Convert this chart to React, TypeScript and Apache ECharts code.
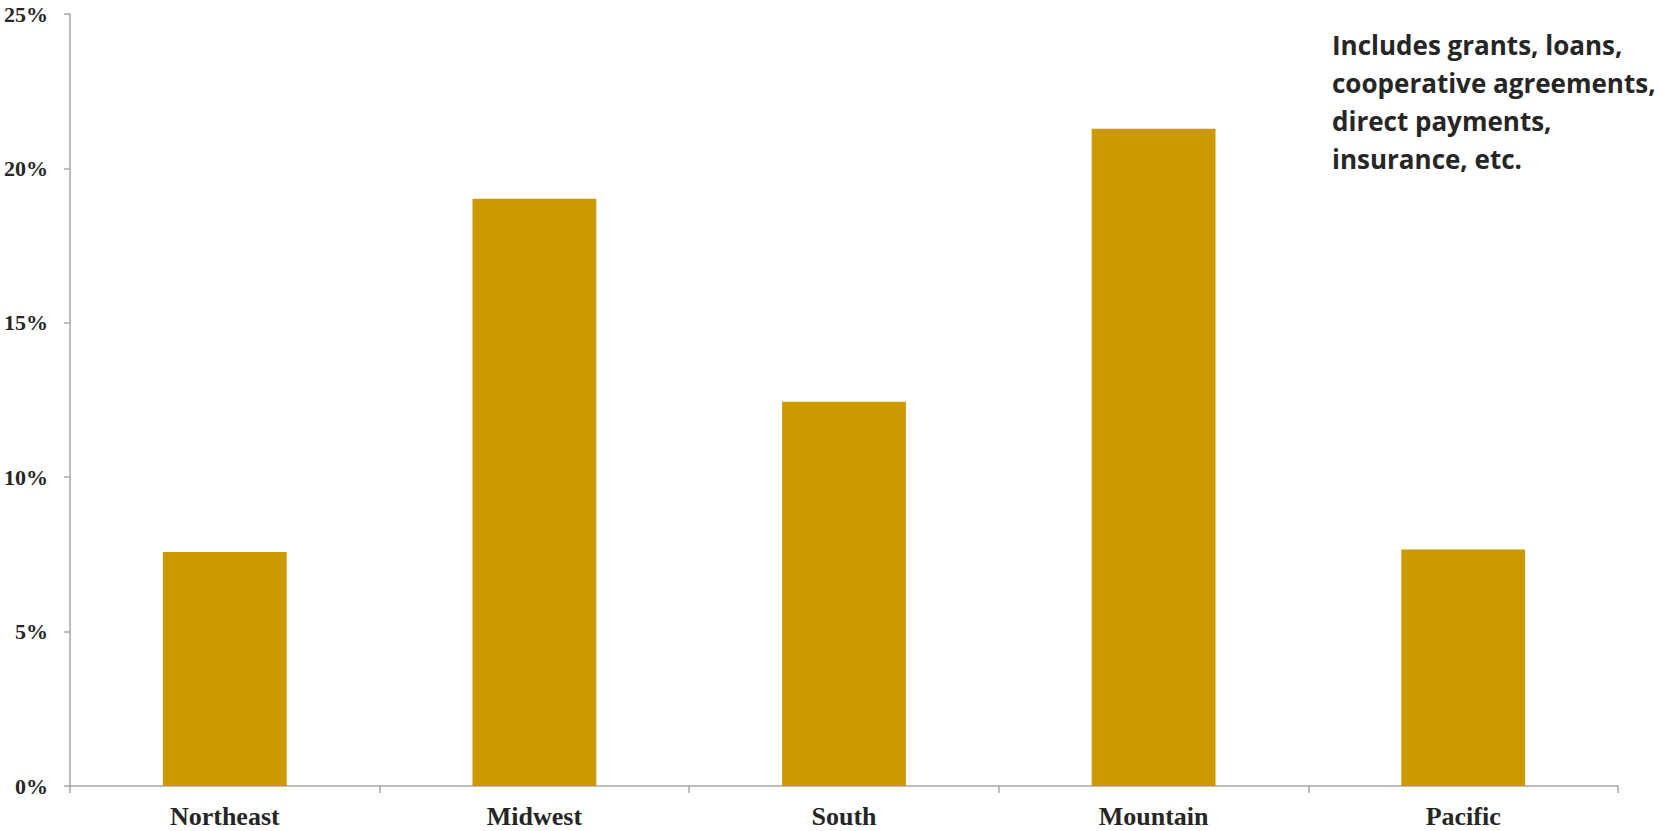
import React, { useEffect, useRef } from "react";
import * as echarts from "echarts";

const categories = ["Northeast", "Midwest", "South", "Mountain", "Pacific"];
const shares = [7.58, 19.02, 12.44, 21.28, 7.66];
const yTicks = [0, 5, 10, 15, 20, 25];
const noteLines = [
  "Includes grants, loans,",
  "cooperative agreements,",
  "direct payments,",
  "insurance, etc.",
];

export default function App() {
  const ref = useRef<HTMLDivElement>(null);
  useEffect(() => {
    if (!ref.current) return;
    const chart = echarts.init(ref.current, undefined, { renderer: "svg" });
    const axisColor = "#A6A6A6";
    const serif = "'Liberation Serif', 'DejaVu Serif', serif";
    chart.setOption({
      animation: false,
      grid: { left: 70, right: 42, top: 14, bottom: 45, containLabel: false },
      xAxis: {
        type: "category",
        data: categories,
        boundaryGap: true,
        axisLine: { lineStyle: { color: axisColor, width: 1.5 } },
        axisTick: { show: true, length: 7, lineStyle: { color: axisColor, width: 1.5 } },
        axisLabel: {
          margin: 17,
          color: "#262626",
          fontFamily: serif,
          fontWeight: "bold",
          fontSize: 26,
        },
      },
      yAxis: {
        type: "value",
        min: yTicks[0],
        max: yTicks[yTicks.length - 1],
        interval: 5,
        splitLine: { show: false },
        axisLine: { show: true, lineStyle: { color: axisColor, width: 1.5 } },
        axisTick: { show: true, length: 6, lineStyle: { color: axisColor, width: 1.5 } },
        axisLabel: {
          margin: 22,
          color: "#262626",
          fontFamily: serif,
          fontWeight: "bold",
          fontSize: 22,
          formatter: (v: number) => `${v}%`,
        },
      },
      series: [
        {
          type: "bar",
          data: shares,
          barWidth: "40%",
          itemStyle: { color: "#CC9900" },
        },
      ],
      graphic: [
        {
          type: "text",
          left: 1332,
          top: 26,
          style: {
            text: noteLines.join("\n"),
            fill: "#262626",
            font: "bold 26px 'Open Sans', sans-serif",
            lineHeight: 38,
          },
        },
      ],
    });
    return () => chart.dispose();
  }, []);
  return <div ref={ref} style={{ width: 1660, height: 831, position: "absolute", left: 0, top: 0 }} />;
}
